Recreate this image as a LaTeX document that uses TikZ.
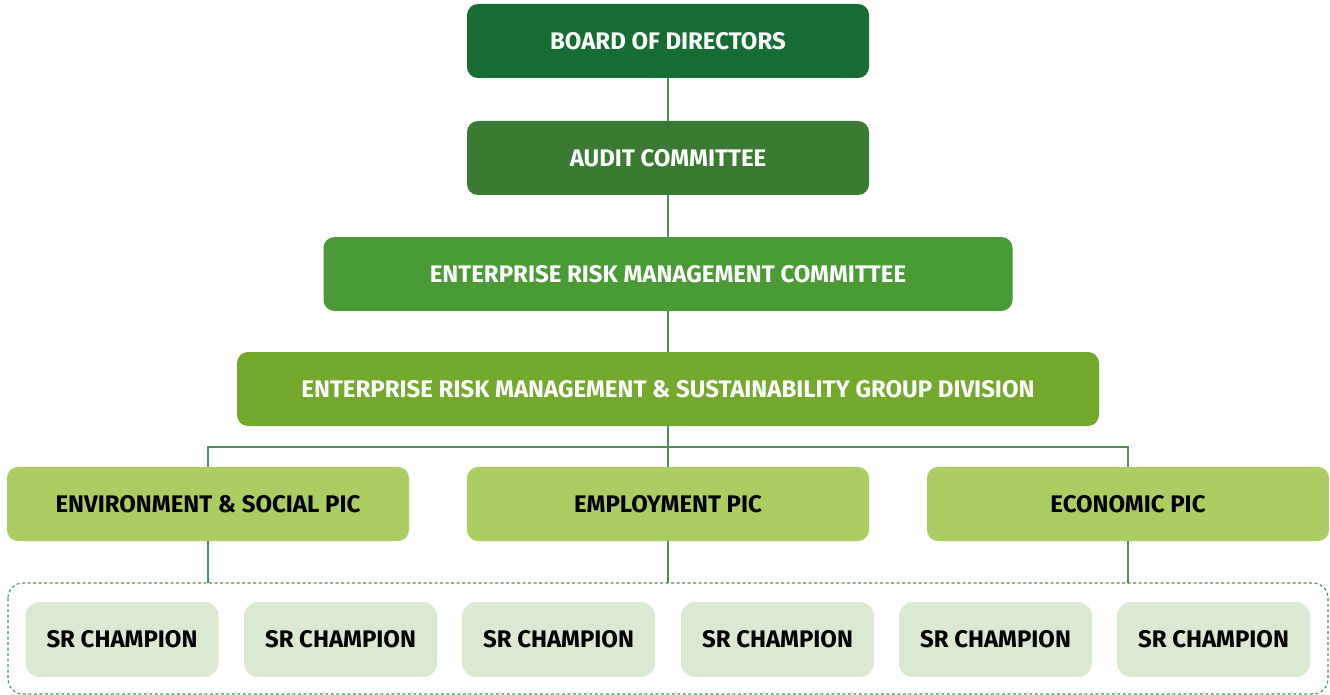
\documentclass[tikz,border=0pt]{standalone}
\usepackage{fontspec}
\setmainfont{Fira Sans}
\usepackage{tikz}
\usetikzlibrary{
    calc,
    positioning
}
\definecolor{boardgreen}{HTML}{156D33}
\definecolor{auditgreen}{HTML}{3A7A32}
\definecolor{ermgreen}{HTML}{4A9A35}
\definecolor{divgreen}{HTML}{74A92E}
\definecolor{picgreen}{HTML}{ABCD62}
\definecolor{srgreen}{HTML}{DBE9D2}
\definecolor{linegreen}{HTML}{4F8D5C}
\tikzset{
    box/.style={rectangle, rounded corners=11pt, minimum height=74pt,
        inner sep=0pt, font=\fontsize{24}{28}\selectfont\bfseries},
    topbox/.style={box, text=white},
    picbox/.style={box, fill=picgreen, minimum width=402pt, text=black},
    srbox/.style={box, fill=srgreen, minimum width=193pt, minimum height=75pt,
        rounded corners=14pt, text=black},
    link/.style={draw=linegreen, line width=1.2pt}
}

\begin{document}
\begin{tikzpicture}[x=1pt,y=-1pt]
        \useasboundingbox (0,0) rectangle (1330,695);

        \draw (668,41)  node[topbox, fill=boardgreen, minimum width=402pt](board){BOARD OF DIRECTORS};
        \draw (668,158) node[topbox, fill=auditgreen, minimum width=402pt](audit){AUDIT COMMITTEE};
        \draw (668,274) node[topbox, fill=ermgreen, minimum width=689pt](ermc){ENTERPRISE RISK MANAGEMENT COMMITTEE};
        \draw (668,389) node[topbox, fill=divgreen, minimum width=862pt](ermd){ENTERPRISE RISK MANAGEMENT \& SUSTAINABILITY GROUP DIVISION};

        \draw (208,504)  node[picbox](envpic){ENVIRONMENT \& SOCIAL PIC};
        \draw (668,504)  node[picbox](emppic){EMPLOYMENT PIC};
        \draw (1128,504) node[picbox](ecopic){ECONOMIC PIC};

        % champions pool
        \draw[draw=linegreen, line width=1.1pt, dashed, dash pattern=on 3pt off 2.5pt,
            rounded corners=15pt] (8,583) rectangle (1328,694);
        \foreach \i/\x in {1/122, 2/340.5, 3/558.5, 4/777.5, 5/995.5, 6/1213.5}
            \draw (\x,639.5) node[srbox](sr\i){SR CHAMPION};

        \coordinate (split) at (668,447);
        \coordinate (envin) at (208,583);
        \coordinate (empin) at (668,583);
        \coordinate (ecoin) at (1128,583);

        \draw[link] (board) -- (audit);
        \draw[link] (audit) -- (ermc);
        \draw[link] (ermc) -- (ermd);
        \draw[link] (ermd) -- (split);
        \draw[link] (envpic.north) -- (envpic.north |- split) -- (ecopic.north |- split) -- (ecopic.north);
        \draw[link] (split) -- (emppic);
        \draw[link] (envpic) -- (envin);
        \draw[link] (emppic) -- (empin);
        \draw[link] (ecopic) -- (ecoin);
    \end{tikzpicture}
\end{document}
